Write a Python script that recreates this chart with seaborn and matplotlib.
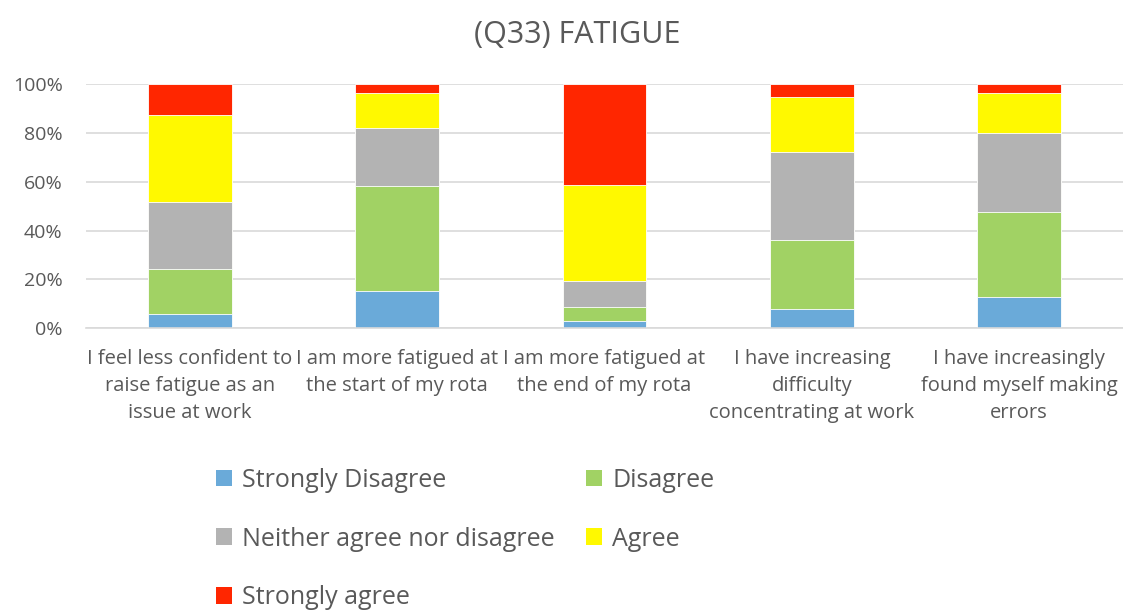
import numpy as np
import pandas as pd
import matplotlib.pyplot as plt
import seaborn as sns
from matplotlib.patches import Patch
from matplotlib.ticker import PercentFormatter

# Data (percent of respondents)
statements = [
    "I feel less confident to\nraise fatigue as an\nissue at work",
    "I am more fatigued at\nthe start of my rota",
    "I am more fatigued at\nthe end of my rota",
    "I have increasing\ndifficulty\nconcentrating at work",
    "I have increasingly\nfound myself making\nerrors",
]
responses = ["Strongly Disagree", "Disagree", "Neither agree nor disagree",
             "Agree", "Strongly agree"]
strongly_disagree = [5.9, 15.4, 2.9, 7.8, 12.8]
disagree = [18.3, 42.7, 5.6, 28.5, 35.0]
neither = [27.4, 24.1, 10.8, 35.7, 32.0]
agree = [35.7, 14.0, 39.3, 22.8, 16.4]
strongly_agree = [12.7, 3.8, 41.4, 5.2, 3.8]

colors = ["#6aaad9", "#a1d264", "#b3b3b3", "#fff900", "#ff2600"]

df = pd.DataFrame({
    "statement": statements,
    responses[0]: strongly_disagree,
    responses[1]: disagree,
    responses[2]: neither,
    responses[3]: agree,
    responses[4]: strongly_agree,
})
# normalise to 100% stacked
totals = df[responses].sum(axis=1)
for r in responses:
    df[r] = df[r] / totals * 100
cum = df[responses].cumsum(axis=1)

sns.set_style("white")
plt.rcParams["font.family"] = ["Open Sans", "DejaVu Sans"]

fig = plt.figure(figsize=(11.23, 6.10), dpi=100)
ax = fig.add_axes([0.0768, 0.462, 0.923, 0.4])

# draw top layer first, then overdraw the lower cumulative layers
for r, c in reversed(list(zip(responses, colors))):
    sns.barplot(x=df["statement"], y=cum[r], color=c, width=0.405,
                saturation=1, edgecolor="white", linewidth=0.6, ax=ax)

ax.set_ylim(0, 100)
ax.set_yticks(np.arange(0, 101, 20))
ax.yaxis.set_major_formatter(PercentFormatter(decimals=0))
ax.yaxis.grid(True, color="#d9d9d9", linewidth=1.2)
ax.set_axisbelow(True)
for s in ["top", "right", "left"]:
    ax.spines[s].set_visible(False)
ax.spines["bottom"].set_color("#d9d9d9")
ax.spines["bottom"].set_linewidth(1.2)
ax.set_xlabel("")
ax.set_ylabel("")
ax.tick_params(axis="y", labelsize=14, labelcolor="#595959", length=0, pad=17)
ax.tick_params(axis="x", labelsize=14.5, labelcolor="#595959", length=0, pad=15)
for t in ax.get_xticklabels():
    t.set_linespacing(1.46)

fig.suptitle("(Q33) FATIGUE", x=0.514, y=0.967, fontsize=22, color="#595959")

handles = [Patch(facecolor=c, edgecolor="none") for c in colors]
order = [0, 2, 4, 1, 3]
fig.legend([handles[i] for i in order], [responses[i] for i in order],
           ncol=2, loc="upper left", bbox_to_anchor=(0.172, 0.27),
           frameon=False, fontsize=18, labelcolor="#595959",
           handlelength=0.65, handleheight=0.65, handletextpad=0.4,
           labelspacing=1.35, columnspacing=1.25)

fig.savefig("out.png", dpi=100)
